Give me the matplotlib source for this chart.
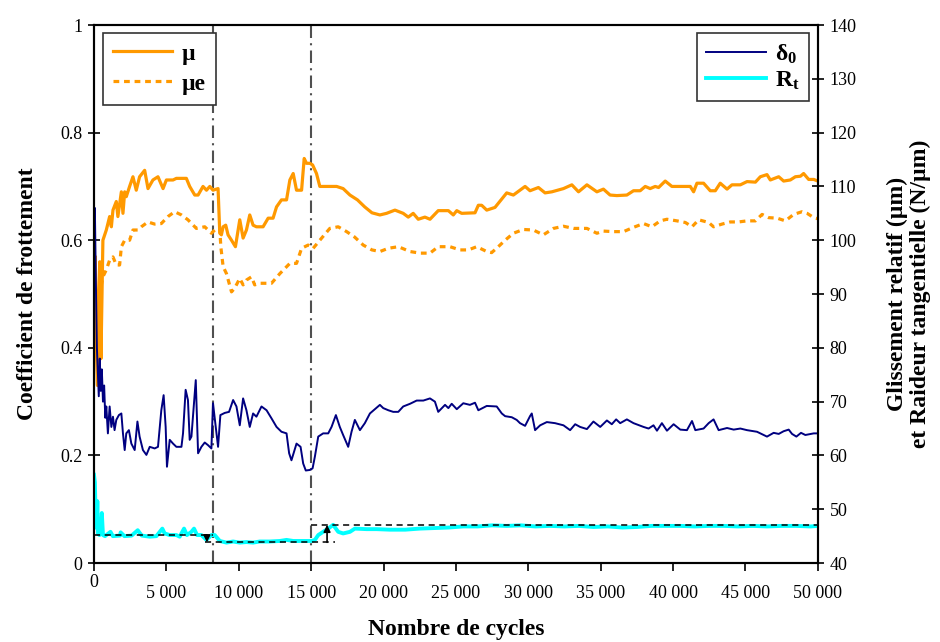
import numpy as np
import matplotlib
matplotlib.use('Agg')
import matplotlib.pyplot as plt

plt.rcParams['font.family'] = ['Liberation Serif', 'DejaVu Serif']
plt.rcParams['mathtext.fontset'] = 'custom'
plt.rcParams['mathtext.rm'] = 'Liberation Serif'
plt.rcParams['mathtext.bf'] = 'Liberation Serif:bold'
plt.rcParams['mathtext.it'] = 'Liberation Serif:italic'

# coefficient de frottement mu
mu_x = [0, 80, 160, 240, 320, 400, 480, 540, 615, 850, 1080, 1200, 1310, 1540, 1650, 1890, 2000, 2120,
        2230, 2460, 2690, 2920, 3150, 3500, 3730, 4070, 4420, 4770, 5000, 5460, 5690, 6380, 6610, 6960,
        7190, 7530, 7770, 8000, 8220, 8570, 8690, 8800, 8920, 9100, 9260, 9500, 9770, 10070, 10300,
        10530, 10760, 10990, 11220, 11680, 12030, 12370, 12610, 12950, 13300, 13530, 13760, 13990,
        14340, 14520, 14680, 14910, 15100, 15370, 15600, 16070, 16760, 17210, 17680, 18200, 18700,
        19200, 19750, 20210, 20790, 21360, 21710, 22050, 22400, 22860, 23210, 23780, 24480, 24820,
        25060, 25400, 26320, 26550, 26780, 27130, 27700, 28510, 28970, 29780, 30120, 30700, 31160,
        31630, 32430, 33010, 33470, 34050, 34740, 35190, 35650, 36120, 36810, 37270, 37730, 38080,
        38420, 38770, 39000, 39460, 39920, 41190, 41420, 41650, 42110, 42570, 42920, 43260, 43730,
        44070, 44650, 45110, 45690, 46030, 46490, 46720, 47300, 47640, 48100, 48450, 48800, 49020,
        49370, 49720, 50000]
mu = [0.45, 0.57, 0.40, 0.33, 0.50, 0.56, 0.38, 0.48, 0.60, 0.619, 0.644, 0.625, 0.656, 0.672, 0.644,
      0.690, 0.650, 0.690, 0.681, 0.700, 0.718, 0.693, 0.718, 0.730, 0.696, 0.712, 0.718, 0.696,
      0.712, 0.712, 0.715, 0.715, 0.700, 0.684, 0.684, 0.700, 0.693, 0.700, 0.693, 0.696, 0.613,
      0.610, 0.625, 0.628, 0.610, 0.600, 0.588, 0.638, 0.604, 0.619, 0.647, 0.628, 0.625, 0.625,
      0.641, 0.641, 0.662, 0.675, 0.675, 0.712, 0.724, 0.693, 0.693, 0.752, 0.743, 0.743, 0.740,
      0.724, 0.700, 0.700, 0.700, 0.696, 0.684, 0.675, 0.662, 0.651, 0.647, 0.650, 0.656, 0.650,
      0.643, 0.650, 0.639, 0.643, 0.639, 0.655, 0.655, 0.647, 0.655, 0.650, 0.651, 0.665, 0.665,
      0.656, 0.661, 0.688, 0.684, 0.700, 0.692, 0.698, 0.688, 0.690, 0.696, 0.703, 0.690, 0.703,
      0.690, 0.695, 0.684, 0.683, 0.684, 0.692, 0.692, 0.700, 0.696, 0.700, 0.698, 0.710, 0.700,
      0.700, 0.690, 0.706, 0.706, 0.692, 0.692, 0.706, 0.695, 0.703, 0.703, 0.709, 0.708, 0.718,
      0.722, 0.712, 0.718, 0.710, 0.712, 0.718, 0.719, 0.724, 0.713, 0.713, 0.710]

# mu e
mue_x = [0, 100, 200, 300, 390, 615, 850, 1080, 1310, 1540, 1770, 1890, 2120, 2460, 2690, 3040, 3270,
         3730, 4190, 4650, 5110, 5570, 6040, 6490, 7070, 7650, 8110, 8460, 8690, 8760, 8920, 9150,
         9500, 9720, 10070, 10300, 10530, 10880, 11100, 11450, 12260, 12840, 13530, 13990, 14340,
         14790, 15140, 15600, 16290, 16870, 17450, 18000, 18600, 19200, 19750, 20330, 21020, 21830,
         22520, 23210, 23780, 24590, 25280, 25860, 26440, 27130, 27470, 27930, 28400, 28970, 29660,
         30350, 31040, 31740, 32430, 33120, 34050, 34740, 35190, 35890, 36580, 37270, 37960, 38540,
         39110, 39580, 40270, 40850, 41310, 41770, 42460, 42800, 43380, 43960, 44530, 45110, 45690,
         46150, 46610, 47190, 47760, 48330, 48910, 49260, 49720, 50000]
mue = [0.44, 0.46, 0.43, 0.50, 0.501, 0.532, 0.545, 0.563, 0.569, 0.554, 0.554, 0.588, 0.600, 0.600,
       0.619, 0.619, 0.625, 0.634, 0.630, 0.631, 0.644, 0.653, 0.647, 0.638, 0.622, 0.625, 0.613,
       0.622, 0.622, 0.588, 0.551, 0.538, 0.504, 0.511, 0.529, 0.517, 0.526, 0.532, 0.517, 0.520,
       0.520, 0.538, 0.557, 0.557, 0.585, 0.591, 0.585, 0.600, 0.622, 0.625, 0.616, 0.606, 0.591,
       0.582, 0.579, 0.585, 0.588, 0.579, 0.576, 0.576, 0.588, 0.588, 0.582, 0.582, 0.588, 0.579,
       0.577, 0.588, 0.600, 0.613, 0.620, 0.619, 0.610, 0.622, 0.626, 0.622, 0.622, 0.613, 0.617,
       0.616, 0.616, 0.624, 0.631, 0.625, 0.636, 0.639, 0.636, 0.633, 0.625, 0.638, 0.633, 0.625,
       0.630, 0.634, 0.634, 0.636, 0.636, 0.648, 0.642, 0.641, 0.636, 0.648, 0.653, 0.650, 0.642,
       0.640]

# glissement relatif delta0 (um)
d0_x = [0, 60, 130, 200, 260, 330, 400, 470, 540, 620, 700, 780, 850, 960, 1080, 1200, 1310, 1420,
        1540, 1720, 1890, 2000, 2120, 2230, 2410, 2580, 2810, 3000, 3150, 3380, 3620, 3850, 4190,
        4420, 4650, 4810, 4950, 5040, 5230, 5460, 5690, 6040, 6150, 6330, 6490, 6610, 6730, 7030,
        7190, 7420, 7650, 7880, 8110, 8220, 8410, 8570, 8730, 9030, 9330, 9610, 9840, 10070, 10300,
        10530, 10760, 10990, 11220, 11570, 11920, 12260, 12610, 12950, 13300, 13480, 13640, 13990,
        14270, 14450, 14630, 14910, 15100, 15260, 15490, 15830, 16180, 16410, 16710, 16980, 17210,
        17560, 17790, 18020, 18370, 18710, 19060, 19750, 19980, 20330, 20670, 21020, 21360, 21830,
        22290, 22750, 23210, 23550, 23780, 24250, 24480, 24710, 25060, 25510, 25970, 26320, 26550,
        27130, 27820, 28170, 28400, 28860, 29200, 29430, 29780, 30120, 30240, 30470, 30820, 31280,
        31850, 32430, 32890, 33240, 33580, 34050, 34500, 34970, 35430, 35770, 36070, 36350, 36810,
        37270, 37960, 38310, 38650, 38890, 39230, 39580, 40040, 40500, 40960, 41310, 41540, 42110,
        42460, 42800, 43150, 43730, 44190, 44650, 45110, 45800, 46490, 46950, 47300, 47640, 47990,
        48220, 48520, 48840, 49140, 49720, 50000]
d0 = [100, 106, 92, 80, 76, 71, 78, 72, 76, 70, 73, 67, 69.1, 64.1, 69.1, 65.3, 67.2, 64.7, 66.6,
      67.5, 67.8, 64.1, 61.0, 64.1, 64.7, 62.2, 61.0, 66.3, 63.5, 61.0, 60.1, 61.6, 61.3, 61.6, 68.4,
      71.2, 65.3, 57.9, 62.9, 62.2, 61.6, 61.6, 64.1, 72.2, 70.3, 62.9, 63.5, 74.0, 60.4, 61.6, 62.4,
      61.9, 61.3, 69.7, 65.3, 61.6, 67.5, 67.9, 68.1, 70.3, 69.1, 65.6, 70.6, 68.4, 65.3, 67.8, 67.2,
      69.1, 68.4, 66.9, 65.3, 64.4, 64.1, 60.4, 59.1, 62.2, 61.6, 58.5, 57.2, 57.3, 57.6, 59.8, 63.5,
      64.1, 64.1, 65.3, 67.5, 65.3, 63.8, 61.6, 64.4, 66.6, 64.7, 66.0, 67.8, 69.4, 68.8, 68.4, 68.1,
      68.1, 69.1, 69.6, 70.2, 70.2, 70.6, 70.0, 68.1, 69.4, 68.8, 69.6, 68.6, 69.7, 69.4, 69.8, 68.4,
      69.2, 69.1, 67.8, 67.3, 67.1, 66.6, 66.0, 65.5, 67.3, 67.8, 64.7, 65.6, 66.2, 66.0, 65.6, 64.7,
      65.8, 65.3, 64.9, 66.3, 65.3, 66.5, 65.8, 66.7, 66.0, 66.7, 66.0, 65.3, 65.0, 65.6, 64.6, 66.0,
      64.6, 65.8, 64.8, 64.7, 66.4, 64.7, 65.0, 66.0, 66.7, 64.7, 65.1, 64.8, 65.0, 64.7, 64.4, 63.5,
      64.2, 64.0, 64.5, 64.8, 64.0, 63.5, 64.2, 63.8, 64.1, 64.1]

# raideur tangentielle Rt (N/um)
rt_x = [0, 60, 130, 180, 230, 280, 380, 470, 540, 620, 760, 1140, 1300, 1800, 1840, 2100, 2600,
        3020, 3300, 3850, 4310, 4720, 4880, 5230, 5690, 5920, 6220, 6420, 6730, 6910, 7120, 7420,
        7770, 8110, 8340, 8690, 9150, 9610, 10070, 10530, 10990, 11450, 12140, 12840, 13300, 13760,
        14450, 15030, 15260, 15490, 15830, 16180, 16520, 16870, 17210, 17680, 18020, 18830, 19520,
        20440, 21500, 22500, 23500, 24500, 25500, 26500, 27500, 28500, 29500, 30500, 31500, 32500,
        33500, 34500, 35500, 36500, 37500, 38500, 39500, 40500, 41500, 42500, 43500, 44500, 45500,
        46500, 47500, 48500, 49500, 50000]
rt = [56.4, 55.0, 47.0, 46.5, 51.5, 45.4, 45.2, 45.5, 49.3, 45.2, 45.0, 45.8, 45.0, 45.1, 45.7, 45.0,
      45.1, 46.1, 45.1, 44.9, 45.0, 46.4, 45.5, 45.2, 45.2, 44.9, 46.4, 45.2, 45.8, 46.4, 45.2, 45.2,
      44.3, 45.2, 45.2, 44.1, 43.8, 44.0, 43.8, 43.9, 43.8, 44.0, 44.0, 44.1, 44.3, 44.1, 44.1, 44.1,
      44.3, 45.2, 45.8, 46.4, 47.1, 45.8, 45.5, 45.8, 46.4, 46.3, 46.3, 46.2, 46.2, 46.4, 46.5, 46.6,
      46.8, 46.8, 47.0, 46.9, 47.0, 46.8, 46.9, 46.8, 46.9, 46.7, 46.8, 46.6, 46.7, 46.9, 46.9, 46.9,
      46.8, 46.9, 46.9, 46.8, 46.9, 46.8, 46.9, 46.9, 46.8, 46.9]

# reperes : lignes verticales et niveaux de Rt
phase_limits = [8200, 15000]
rt_levels = [45.2, 43.85, 47.1]
rt_level_spans = [(0, 8200), (7650, 16650), (15000, 50000)]
arrows = [(7800, 45.2, 43.85), (16100, 43.85, 47.1)]

x_ticks = [0, 5000, 10000, 15000, 20000, 25000, 30000, 35000, 40000, 45000, 50000]
x_labels = ['', '5 000', '10 000', '15 000', '20 000', '25 000', '30 000', '35 000', '40 000',
            '45 000', '50 000']
y1_ticks = [0, 0.2, 0.4, 0.6, 0.8, 1]
y1_labels = ['0', '0.2', '0.4', '0.6', '0.8', '1']
y2_ticks = [40, 50, 60, 70, 80, 90, 100, 110, 120, 130, 140]

orange = '#FF9900'
navy = '#000080'
cyan = '#00FFFF'

fig = plt.figure(figsize=(9.4, 6.42), dpi=100)
ax = fig.add_axes([0.1, 0.123, 0.77, 0.838])
ax2 = ax.twinx()

ax.plot(mu_x, mu, color=orange, lw=2.3, label='µ')
ax.plot(mue_x, mue, color=orange, lw=2.3, ls=(0, (1.8, 1.5)), label='µe')
for xv in phase_limits:
    ax.axvline(xv, color='#505050', lw=1.5, ls=(0, (6, 2.5, 1, 2.5)), zorder=1)

ax2.plot(d0_x, d0, color=navy, lw=1.4, label='δ$_{\\mathbf{0}}$')
ax2.plot(rt_x, rt, color=cyan, lw=2.8, label='R$_{\\mathbf{t}}$')
for lev, (a, b) in zip(rt_levels, rt_level_spans):
    ax2.hlines(lev, a, b, colors='k', lw=1.1, linestyles=(0, (4, 3)))
for xa, y0, y1 in arrows:
    ax2.annotate('', xy=(xa, y1), xytext=(xa, y0),
                 arrowprops=dict(arrowstyle='-|>', color='k', lw=1.2, mutation_scale=10,
                                 shrinkA=0, shrinkB=0))

ax.set_xlim(0, 50000)
ax.set_ylim(0, 1)
ax2.set_ylim(40, 140)
ax.set_xticks(x_ticks)
ax.set_xticklabels(x_labels)
ax.set_yticks(y1_ticks)
ax.set_yticklabels(y1_labels)
ax2.set_yticks(y2_ticks)
ax.annotate('0', xy=(0, 0), xycoords=('data', 'axes fraction'), xytext=(0, -8),
            textcoords='offset points', ha='center', va='top', fontsize=13)

ax.tick_params(axis='x', direction='out', length=6, width=1.2, labelsize=13, pad=10)
ax.tick_params(axis='y', direction='inout', length=9, width=1.2, labelsize=13, pad=4)
ax2.tick_params(axis='y', direction='inout', length=9, width=1.2, labelsize=13, pad=4)
for a in (ax, ax2):
    for s in a.spines.values():
        s.set_linewidth(1.5)

ax.set_xlabel('Nombre de cycles', fontsize=17, fontweight='bold', labelpad=12)
ax.set_ylabel('Coefficient de frottement', fontsize=17, fontweight='bold', labelpad=16)
ax2.set_ylabel('Glissement relatif (µm)\net Raideur tangentielle (N/µm)', fontsize=17,
               fontweight='bold', rotation=90, labelpad=22, linespacing=1.1)

leg1 = ax.legend(loc='upper left', bbox_to_anchor=(0.012, 0.986), fancybox=False,
                 edgecolor='#333333', framealpha=1, prop={'weight': 'bold', 'size': 17},
                 handlelength=2.5, handletextpad=0.4, borderaxespad=0, borderpad=0.45,
                 labelspacing=0.35)
leg1.get_frame().set_linewidth(1.2)
leg2 = ax2.legend(loc='upper right', bbox_to_anchor=(0.988, 0.985), fancybox=False,
                  edgecolor='#333333', framealpha=1, prop={'weight': 'bold', 'size': 17},
                  handlelength=2.5, handletextpad=0.4, borderaxespad=0, borderpad=0.4,
                  labelspacing=0.15)
leg2.get_frame().set_linewidth(1.2)

fig.savefig('out.png', dpi=100)
